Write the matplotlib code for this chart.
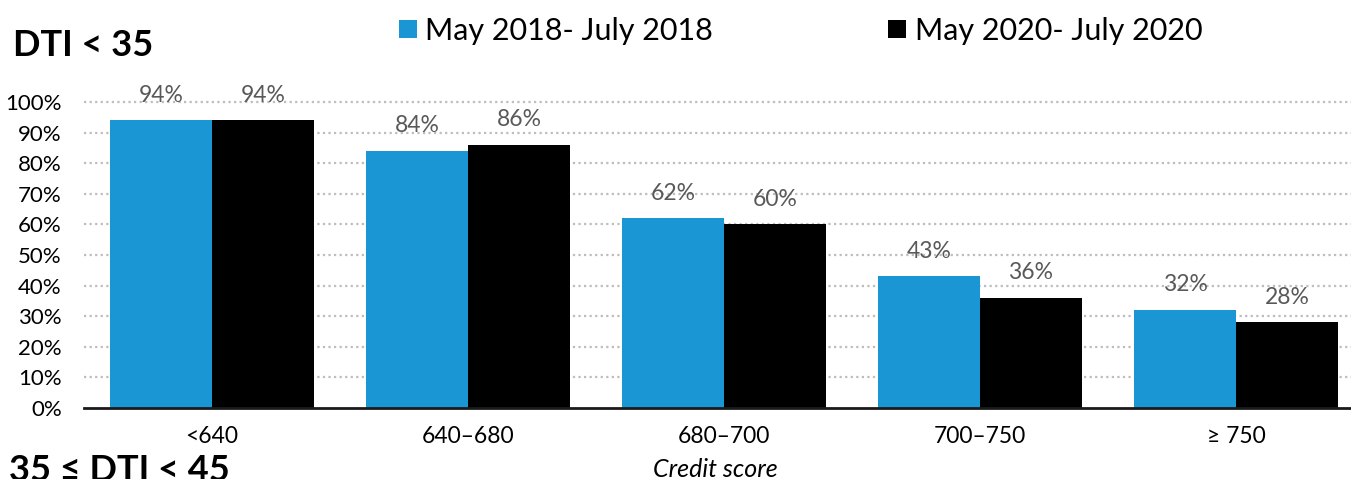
import matplotlib
matplotlib.use("Agg")
import matplotlib.pyplot as plt
import numpy as np
from matplotlib.patches import Rectangle

plt.rcParams['font.family'] = ['Lato', 'DejaVu Sans']

categories = ["<640", "640–680", "680–700", "700–750", "≥ 750"]
series_2018 = [94, 84, 62, 43, 32]
series_2020 = [94, 86, 60, 36, 28]
series_names = ["May 2018- July 2018", "May 2020- July 2020"]
y_ticks = [0, 10, 20, 30, 40, 50, 60, 70, 80, 90, 100]
y_tick_labels = [f"{v}%" for v in y_ticks]

W, H = 1351, 479
fig = plt.figure(figsize=(W / 100, H / 100), dpi=100)

def px(x, y):
    return x / W, 1 - y / H

ax_left, ax_right, ax_top, ax_bottom = 84, 1351, 102, 408
ax = fig.add_axes([ax_left / W, 1 - ax_bottom / H, (ax_right - ax_left) / W, (ax_bottom - ax_top) / H])

blue = "#1996d3"
black = "#000000"
x = np.arange(len(categories))
bw = 102 / 256
b1 = ax.bar(x - bw / 2, series_2018, width=bw, color=blue, zorder=3)
b2 = ax.bar(x + bw / 2, series_2020, width=bw, color=black, zorder=3)

ax.set_xlim(-0.5, (ax_right - 212) / 256)
ax.set_ylim(0, 100)

for gy in y_ticks[1:]:
    ax.axhline(gy, color="#bdbdbd", linestyle=(0, (1, 1.5)), linewidth=1.6, zorder=1, clip_on=False)

for bars, vals in ((b1, series_2018), (b2, series_2020)):
    for rect, v in zip(bars, vals):
        ax.annotate(f"{v}%", (rect.get_x() + rect.get_width() / 2, v),
                    xytext=(0, 13.5), textcoords="offset points",
                    ha="center", va="baseline", fontsize=16.5, color="#595959",
                    annotation_clip=False)

ax.set_yticks(y_ticks)
ax.set_yticklabels(y_tick_labels, fontsize=16, color="#000000")
ax.set_xticks(x)
ax.set_xticklabels(categories, fontsize=16.5, color="#000000")
ax.tick_params(axis="y", length=0, pad=16)
ax.tick_params(axis="x", length=0, pad=13)

for s in ["top", "right", "left"]:
    ax.spines[s].set_visible(False)
ax.spines["bottom"].set_color("#1a1a1a")
ax.spines["bottom"].set_linewidth(2)
ax.spines["bottom"].set_zorder(4)

# Titles
fig.text(*px(13, 56), "DTI < 35", fontsize=26, fontweight="bold", ha="left", va="baseline")
fig.text(*px(9, 481), "35 ≤ DTI < 45", fontsize=26, fontweight="bold", ha="left", va="baseline")
fig.text(*px(715, 477), "Credit score", fontsize=18, style="italic", ha="center", va="baseline")

# Legend
for (sx, tx, col, name) in ((399, 425, blue, series_names[0]), (888, 915, black, series_names[1])):
    fig.patches.append(Rectangle(px(sx, 38), 18 / W, 18 / H, transform=fig.transFigure,
                                 facecolor=col, edgecolor="none"))
    fig.text(*px(tx, 40), name, fontsize=22, ha="left", va="baseline")

fig.savefig("out.png", dpi=100)
